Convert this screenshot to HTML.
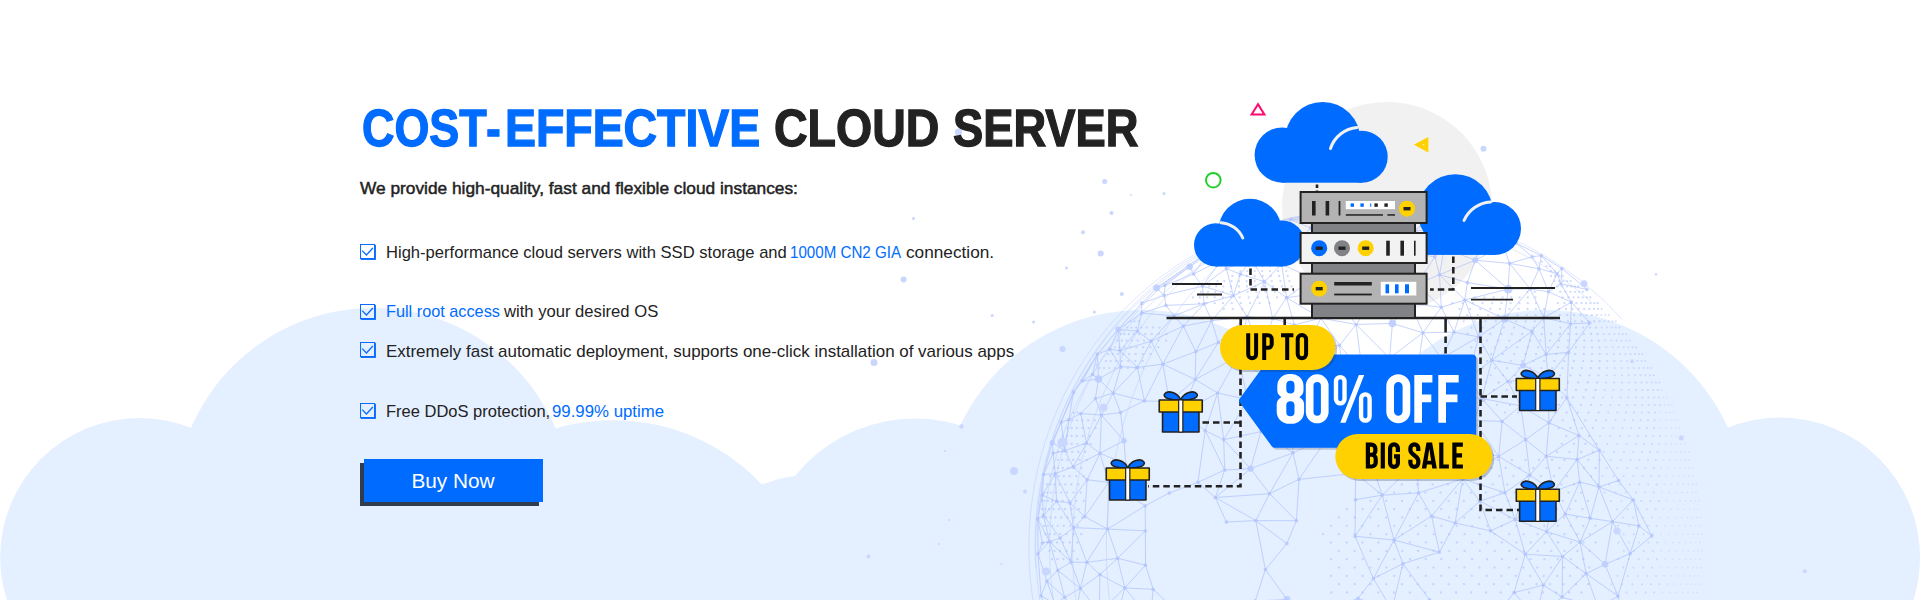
<!DOCTYPE html>
<html lang="en">
<head>
<meta charset="utf-8">
<title>Cost-Effective Cloud Server</title>
<style>
*{margin:0;padding:0;box-sizing:border-box}
html,body{width:1920px;height:600px;overflow:hidden;background:#fff}
body{font-family:"Liberation Sans",sans-serif;color:#222;position:relative}
#banner{position:absolute;left:0;top:0;width:1920px;height:600px;overflow:hidden;background:#fff}
#art{position:absolute;left:0;top:0;width:1920px;height:600px;display:block}
.t{position:absolute;white-space:nowrap;transform-origin:0 0;line-height:1;display:block}
h1.hd{font-weight:bold;font-size:51.5px;-webkit-text-stroke:1.3px currentColor;color:#222}

.sub{font-size:16px;font-weight:normal;color:#222;-webkit-text-stroke:.45px #222}
.li{font-size:16.3px;color:#222}
.blue{color:#006cff}
.chk{position:absolute;left:360px;width:16px;height:16px}
.btn{position:absolute;left:364px;top:459px;width:179px;height:43px;background:#006cff;box-shadow:-4px 4px 0 #2f3d4f;color:#fff;font-size:20px;line-height:43px;text-align:center;text-decoration:none;display:block}
.btn span{display:inline-block;position:relative;top:.5px;transform:scaleX(1.04)}
</style>
</head>
<body>
<div id="banner">
<svg id="art" width="1920" height="600" viewBox="0 0 1920 600">
<g id="clouds" fill="#e4efff">
<circle cx="139.6" cy="557.4" r="139.4"/>
<circle cx="373.2" cy="506.4" r="198.4"/>
<circle cx="613" cy="624.3" r="204.1"/>
<circle cx="810" cy="600" r="125"/>
<circle cx="915" cy="572.7" r="154.2"/>
<circle cx="1142.4" cy="511.3" r="201.4"/>
<circle cx="1307" cy="624.3" r="204.1"/>
<circle cx="1545" cy="511" r="201"/>
<circle cx="1780" cy="557.5" r="140"/>
<rect x="140" y="520" width="1640" height="80"/>
</g>
<circle cx="1387" cy="207" r="105" fill="#f1f1f1"/>
<g id="globe" fill="none" stroke="#a9bdfc" stroke-width="1" opacity=".62">
<path d="M1197.9 482.3L1224.7 470M1448.7 233.4L1444.3 248.5M1346.3 282.1L1312.6 278.8M1228 249.5L1209.8 250.9M1082.4 381L1073.5 392.1M1247.1 316.7L1261 353.4M1490.6 530.9L1455.2 522.9M1043.5 515.4L1060.1 538M1043.6 474.5L1053.2 453.1M1310.5 228.1L1316.4 214.7M1228 249.5L1221.7 259.7M1464.5 448.6L1416.6 461.9M1474 420.5L1464.5 448.6M1086.6 443.1L1100 453.3M1546.6 531.6L1565.2 514M1441.5 358.5L1439.8 395M1228 249.5L1226.2 244.4M1237.9 356.4L1195.2 379.5M1087.1 479.7L1108.5 482.5M1293 452.8L1250.6 468.7M1379.2 214.5L1411.3 221.1M1474 420.5L1420.7 431.6M1377.9 209.6L1379.2 214.5M1141.7 313.1L1141.7 303.2M1580.1 542.2L1590.3 518.3M1193.6 274L1221.7 259.7M1240.4 274.1L1226.3 268.6M1055 603.8L1041 595.8M1260.9 431.6L1247.8 399.7M1420.7 431.6L1416.6 461.9M1515.2 519.5L1479.9 501.2M1255.2 601L1265.4 569.5M1546.3 456.3L1529.9 475.1M1064.8 450.6L1086.6 443.1M1297.9 242.1L1284.1 228.6M1523.1 365.4L1491.7 360.3M1525.3 554.2L1515.2 519.5M1389.6 434.1L1398.7 400.3M1398.3 251.5L1382.8 273.2M1612.5 521.6L1605 564.3M1520.7 405.9L1525.6 439.7M1217.6 393L1237.9 356.4M1464.5 448.6L1498.7 456.4M1250.6 468.7L1223.7 439.7M1548.5 291.8L1543.8 317.7M1038 553.8L1037.8 518.9M1043.5 515.4L1049.5 541.6M1269.5 493.7L1215.3 497.5M1389.6 434.1L1367.1 450.2M1389.6 434.1L1420.7 431.6M1357.9 598.5L1310.3 615.8M1118.2 329.5L1141.7 303.2M1439.8 395L1481.9 398.5M1468.4 377.9L1481.9 398.5M1080.8 413.5L1095.4 398.6M1362.3 371.7L1367.9 415.4M1478.5 336.9L1468.4 377.9M1525.3 554.2L1543.4 585.1M1546.1 354.4L1548 377.2M1144.4 400.9L1120.5 412.5M1141.7 313.1L1137.3 331.1M1431.6 217.8L1411.9 212.7M1291.2 219.4L1258.8 230.1M1402.9 563.7L1394 540M1322.4 402.9L1367.9 415.4M1357.9 598.5L1391.9 609.7M1041 595.8L1050.1 616.5M1294.3 324.9L1305.9 348.2M1294.3 324.9L1320.9 318.1M1509.6 263.4L1539 268.7M1255.6 242.4L1284.1 228.6M1651.8 536L1638.9 525.9M1543.8 317.7L1532 331.2M1197.9 482.3L1205.2 430.6M1398.3 251.5L1396.1 238.8M1322.4 402.9L1294.1 389.8M1264.6 281.7L1272.7 318.5M1264.6 281.7L1233.4 295.6M1420.7 431.6L1464.5 448.6M1589.7 322.9L1571.4 302.2M1548.5 291.8L1560.9 283.8M1092.6 374.3L1098.5 379M1169.5 401.7L1182.3 412.5M1398.7 400.3L1367.9 415.4M1339.6 345.3L1343.7 390.1M1562.1 597.1L1586.1 573.7M1346.3 282.1L1320.2 255.4M1651.8 536L1630.2 553.6M1310.5 228.1L1335.2 242.9M1497.3 614.1L1514 592.6M1356.1 324.5L1379.1 292.3M1137.5 367.4L1162.9 364.2M1293 452.8L1290.7 422.3M1312.5 369.8L1294.1 389.8M1087.1 479.7L1100 453.3M1118.2 329.5L1137.3 331.1M1468.4 377.9L1439.8 395M1124.8 587.9L1153.2 589.3M1568.6 352.3L1546.1 354.4M1195.2 379.5L1182.3 412.5M1580.1 542.2L1605 564.3M1523.1 365.4L1507.9 381.4M1318 293.2L1286.6 297.7M1145.5 565.2L1124.8 587.9M1346.3 282.1L1341.4 305.4M1474 420.5L1481.9 398.5M1233.4 295.6L1226.3 268.6M1057.7 570.3L1064.6 597.4M1341.4 219.2L1339.9 213.7M1380.9 223.3L1356.5 230.5M1377.9 209.6L1411.9 212.7M1120.6 366.7L1109.8 349.2M1398.7 400.3L1417.9 368.4M1508.2 289.1L1467.4 282.6M1525.3 554.2L1562.6 556.5M1073.1 466.8L1055.3 473.7M1503.2 245.7L1479.6 247.1M1255.2 601L1310.3 615.8M1362.3 371.7L1343.7 390.1M1580.1 542.2L1546.6 531.6M1520.7 405.9L1481.9 398.5M1164.2 295.4L1156.5 287.9M1618 596.2L1605 564.3M1392.4 323.4L1356.1 324.5M1416.9 284.1L1382.8 273.2M1392.4 323.4L1379.1 292.3M1264.6 281.7L1247.1 316.7M1322.4 402.9L1343.7 390.1M1464.8 300L1454 332.2M1504.5 318.9L1491.7 360.3M1228 249.5L1255.6 242.4M1612.5 521.6L1638.9 525.9M1144.4 400.9L1169.5 401.7M1145.2 505.8L1169.3 493M1174.1 315.9L1141.7 313.1M1082.4 381L1092.6 374.3M1082.4 381L1097.3 354.1M1312.5 369.8L1343.7 390.1M1377.9 209.6L1339.6 210.8M1553.7 491.3L1565.2 514M1474 420.5L1439.8 395M1107.6 529.1L1084.8 516.7M1491.7 360.3L1507.9 381.4M1612.5 521.6L1630.2 553.6M1505 492.7L1515.2 519.5M1579 435.5L1577.1 459.5M1539 268.7L1541.3 255.7M1237.9 356.4L1261 353.4M1258.8 230.1L1284.1 228.6M1216.4 612.9L1255.2 601M1320.2 255.4L1335.2 242.9M1037.8 518.9L1049.5 541.6M1543.8 317.7L1546.1 354.4M1221.7 259.7L1226.3 268.6M1099.9 574.6L1124.8 587.9M1394 540L1373.4 578.6M1084.8 516.7L1070 502.9M1101.4 415L1080.8 413.5M1293 452.8L1327.8 437.3M1516.2 243.2L1495.6 233.2M1101.4 415L1095.4 398.6M1561.9 268.5L1541.3 255.7M1441.5 358.5L1454 332.2M1359.1 257.1L1373 242.3M1144.4 400.9L1113.2 393.1M1046.9 581.2L1064.6 597.4M1137.5 367.4L1151.1 341.2M1402.9 563.7L1439.4 552.1M1296.4 520.7L1286.9 543.5M1618 596.2L1622 616.4M1197.9 482.3L1215.3 497.5M1529.9 475.1L1515.2 519.5M1504.5 318.9L1530.1 288.9M1586.1 573.7L1562.6 556.5M1566.9 397.7L1579 435.5M1422.9 332.8L1454 332.2M1145.4 530.8L1117.6 558.3M1429.6 599.9L1391.9 609.7M1539 268.7L1532.2 256.7M1237.9 356.4L1247.8 399.7M1462.6 478.9L1479.9 501.2M1498.7 456.4L1525.6 439.7M1548.5 291.8L1557.1 273.6M1431.6 516L1439.4 552.1M1071 562.2L1086.8 562.3M1546.6 531.6L1515.2 519.5M1043.5 515.4L1037.8 518.9M1221.7 259.7L1209.8 250.9M1109.8 349.2L1097.3 354.1M1612.5 521.6L1590.3 518.3M1049.5 541.6L1057.7 570.3M1503.2 245.7L1495.6 233.2M1264.6 281.7L1240.4 274.1M1455.2 522.9L1479.9 501.2M1217.6 393L1205.2 430.6M1339.6 345.3L1305.9 348.2M1195.8 351.6L1195.2 379.5M1415 230L1431.6 217.8M1379.1 292.3L1341.4 305.4M1107.6 529.1L1145.2 505.8M1339.6 345.3L1320.9 318.1M1633.3 499.9L1599 486.9M1056.6 501.3L1042.4 495.1M1579.7 482L1565.2 514M1060.1 538L1049.5 541.6M1579.7 482L1599 486.9M1553.7 491.3L1577.1 459.5M1061.2 422.2L1052.3 442.5M1503.2 245.7L1516.2 243.2M1073.5 392.1L1052.3 442.5M1071 562.2L1080.4 588.4M1448.7 233.4L1454.4 219.8M1523.1 365.4L1548 377.2M1474 420.5L1498.7 456.4M1505 492.7L1479.9 501.2M1312.5 369.8L1322.4 402.9M1043.6 474.5L1037.8 518.9M1071 562.2L1073.6 527.6M1382.2 495.2L1355.1 536.3M1150.3 619.2L1153.2 589.3M1420.7 431.6L1439.8 395M1398.3 251.5L1434.9 256.8M1233.4 295.6L1204.1 303.8M1297.9 242.1L1320.2 255.4M1293 452.8L1299 479.3M1546.3 456.3L1553.7 491.3M1217.6 393L1195.2 379.5M1346.3 282.1L1379.1 292.3M1042.4 543L1049.5 541.6M1080.4 588.4L1064.6 597.4M1092.6 374.3L1097.3 354.1M1205.2 430.6L1223.7 439.7M1418.5 492.9L1394 540M1296.4 520.7L1269.5 493.7M1251.6 259L1240.4 274.1M1599.4 450.3L1579 435.5M1478.5 336.9L1491.7 360.3M1247.1 316.7L1272.7 318.5M1431.6 217.8L1411.3 221.1M1101.4 415L1124 440.7M1223.7 439.7L1247.8 399.7M1223.7 439.7L1224.7 470M1439.4 552.1L1394 540M1341.4 219.2L1316.4 214.7M1355.6 473.3L1382.2 495.2M1061.2 422.2L1064.8 450.6M1618 596.2L1630.2 553.6M1391.9 609.7L1373.4 578.6M1164.9 285.4L1164.2 295.4M1193.6 274L1209.8 250.9M1367.9 415.4L1343.7 390.1M1311.9 220.8L1291.2 219.4M1247.1 316.7L1218.3 342.4M1441.3 307.3L1454 332.2M1038 553.8L1042.4 543M1398.3 251.5L1373 242.3M1108.5 482.5L1100 453.3M1056.6 501.3L1055.3 473.7M1380.9 223.3L1396.1 238.8M1312.5 369.8L1305.9 348.2M1226.2 244.4L1255.6 242.4M1543.8 317.7L1530.1 288.9M1579.7 482L1577.1 459.5M1557.1 273.6L1541.3 255.7M1124.8 587.9L1099.4 612.7M1205.2 430.6L1224.7 470M1144.4 400.9L1162.9 364.2M1566.9 397.7L1599.4 450.3M1382.2 495.2L1367.1 450.2M1539 268.7L1530.1 288.9M1548.9 422.8L1525.6 439.7M1037.8 518.9L1042.4 543M1396.1 238.8L1373 242.3M1402.9 563.7L1373.4 578.6M1367.9 415.4L1367.1 450.2M1166 305.4L1141.7 313.1M1462.6 227.1L1495.6 233.2M1410.4 303.5L1416.9 284.1M1151.1 341.2L1119.9 350.7M1543.8 317.7L1571.4 302.2M1265.4 569.5L1286.9 543.5M1120.6 366.7L1137.5 367.4M1392.4 323.4L1410.4 303.5M1389.6 358.1L1417.9 368.4M1183.3 326.1L1204.1 303.8M1380.9 223.3L1379.2 214.5M1095.4 398.6L1098.5 379M1356.5 230.5L1379.2 214.5M1546.3 456.3L1548.9 422.8M1233.4 295.6L1211.6 320.7M1226.2 244.4L1258.8 230.1M1341.4 219.2L1356.5 230.5M1462.6 478.9L1418.5 492.9M1431.6 516L1394 540M1226.4 522L1215.3 497.5M1341.4 219.2L1377.9 209.6M1250.6 468.7L1224.7 470M1097.3 354.1L1098.5 379M1107.6 529.1L1086.8 562.3M1097.3 354.1L1073.5 392.1M1410.4 303.5L1422.9 332.8M1431.6 217.8L1448.7 233.4M1141.7 303.2L1164.2 295.4M1120.6 366.7L1119.9 350.7M1580.1 542.2L1562.6 556.5M1237.9 356.4L1267.1 380M1416.9 284.1L1434.9 256.8M1382.2 495.2L1394 540M1462.6 478.9L1416.6 461.9M1553.7 491.3L1515.2 519.5M1341.4 219.2L1335.2 242.9M1286.6 297.7L1320.9 318.1M1382.2 495.2L1355.4 499.7M1504.5 318.9L1464.8 300M1118.2 329.5L1097.3 354.1M1454.4 219.8L1411.9 212.7M1260.9 431.6L1290.7 422.3M1605 564.3L1586.1 573.7M1548.9 422.8L1579 435.5M1568.6 352.3L1548 377.2M1255.8 520.6L1286.9 543.5M1056.6 501.3L1073.6 527.6M1418.5 492.9L1416.6 461.9M1553.7 491.3L1529.9 475.1M1118.2 329.5L1109.8 349.2M1247.1 316.7L1211.6 320.7M1389.6 358.1L1398.7 400.3M1431.6 516L1455.2 522.9M1633.3 499.9L1638.9 525.9M1379.2 214.5L1411.9 212.7M1099.9 574.6L1117.6 558.3M1389.6 358.1L1422.9 332.8M1137.5 367.4L1119.9 350.7M1516.2 243.2L1532.2 256.7M1255.8 520.6L1226.4 522M1226.2 244.4L1209.8 250.9M1217.6 393L1182.3 412.5M1046.9 581.2L1041 595.8M1320.9 318.1L1341.4 305.4M1297.9 242.1L1281.7 263.9M1217.6 393L1223.7 439.7M1570.6 323.8L1543.8 317.7M1462.6 478.9L1498.7 456.4M1310.5 228.1L1297.9 242.1M1189.7 266.8L1156.5 287.9M1073.1 466.8L1100 453.3M1084.8 516.7L1108.5 482.5M1562.1 597.1L1543.4 585.1M1505 492.7L1462.6 478.9M1441.3 307.3L1410.4 303.5M1441.5 358.5L1468.4 377.9M1339.9 213.7L1316.4 214.7M1327.8 437.3L1367.9 415.4M1356.5 230.5L1335.2 242.9M1416.9 284.1L1439.5 274.7M1145.5 565.2L1145.4 530.8M1618.6 480.5L1599 486.9M1255.8 520.6L1215.3 497.5M1630.2 553.6L1605 564.3M1415 230L1396.1 238.8M1118.2 329.5L1141.7 313.1M1099.9 574.6L1086.8 562.3M1416.6 461.9L1367.1 450.2M1311.9 220.8L1316.4 214.7M1073.1 466.8L1064.8 450.6M1258.8 230.1L1209.8 250.9M1318 293.2L1320.9 318.1M1069 419.6L1080.8 413.5M1046.9 581.2L1057.7 570.3M1264.6 281.7L1251.6 259M1043.5 515.4L1042.4 495.1M1183.3 326.1L1211.6 320.7M1462.6 478.9L1464.5 448.6M1548.9 422.8L1548 377.2M1125.8 464.2L1108.5 482.5M1320.2 255.4L1312.6 278.8M1548.5 291.8L1530.1 288.9M1490.6 530.9L1515.2 519.5M1183.3 326.1L1174.1 315.9M1261 353.4L1267.1 380M1475.2 260.2L1439.5 274.7M1080.4 588.4L1086.8 562.3M1411.3 221.1L1411.9 212.7M1462.6 227.1L1448.7 233.4M1355.1 536.3L1373.4 578.6M1468.4 377.9L1491.7 360.3M1339.6 345.3L1362.3 371.7M1069 419.6L1073.5 392.1M1415 230L1398.3 251.5M1261 353.4L1305.9 348.2M1439.8 395L1417.9 368.4M1099.9 574.6L1080.4 588.4M1255.8 520.6L1269.5 493.7M1310.5 228.1L1320.2 255.4M1439.5 274.7L1434.9 256.8M1255.8 520.6L1265.4 569.5M1579.7 482L1590.3 518.3M1509.6 263.4L1532.2 256.7M1237.9 356.4L1218.3 342.4M1290.7 422.3L1294.1 389.8M1612.5 521.6L1580.1 542.2M1475.2 260.2L1479.6 247.1M1568.6 352.3L1566.9 397.7M1043.6 474.5L1042.4 495.1M1193.6 274L1189.7 266.8M1294.3 324.9L1261 353.4M1536.1 617.8L1514 592.6M1396.1 238.8L1411.3 221.1M1310.3 615.8L1287 599.5M1355.1 536.3L1394 540M1548.5 291.8L1571.4 302.2M1247.1 316.7L1237.9 356.4M1101.4 415L1113.2 393.1M1322.4 402.9L1290.7 422.3M1355.1 536.3L1355.4 499.7M1107.6 529.1L1108.5 482.5M1464.8 300L1478.5 336.9M1169.5 401.7L1162.9 364.2M1125.8 464.2L1124 440.7M1293 452.8L1260.9 431.6M1305.9 348.2L1294.1 389.8M1441.3 307.3L1416.9 284.1M1290.7 422.3L1247.8 399.7M1495.6 233.2L1454.4 219.8M1380.9 223.3L1373 242.3M1053.2 453.1L1055.3 473.7M1291.2 219.4L1316.4 214.7M1356.1 324.5L1320.9 318.1M1382.2 495.2L1416.6 461.9M1071 562.2L1060.1 538M1162.9 364.2L1195.2 379.5M1590.3 518.3L1565.2 514M1462.6 227.1L1479.6 247.1M1590.3 518.3L1599 486.9M1508.2 289.1L1530.1 288.9M1529.9 475.1L1525.6 439.7M1218.3 342.4L1211.6 320.7M1439.8 395L1398.7 400.3M1041 595.8L1038 553.8M1441.5 358.5L1478.5 336.9M1120.5 412.5L1113.2 393.1M1359.1 257.1L1382.8 273.2M1071 562.2L1057.7 570.3M1553.7 491.3L1546.6 531.6M1267.1 380L1247.8 399.7M1261 353.4L1272.7 318.5M1557.1 273.6L1539 268.7M1193.6 274L1164.9 285.4M1599.4 450.3L1599 486.9M1043.6 474.5L1055.3 473.7M1462.6 478.9L1431.6 516M1618.6 480.5L1599.4 450.3M1076.4 611.1L1080.4 588.4M1464.8 300L1439.5 274.7M1398.7 400.3L1362.3 371.7M1120.6 366.7L1098.5 379M1327.8 437.3L1367.1 450.2M1546.1 354.4L1532 331.2M1247.1 316.7L1233.4 295.6M1202.5 286.1L1226.3 268.6M1145.5 565.2L1153.2 589.3M1431.6 217.8L1454.4 219.8M1548.5 291.8L1539 268.7M1415 230L1444.3 248.5M1475.2 260.2L1509.6 263.4M1379.1 292.3L1410.4 303.5M1491.7 360.3L1481.9 398.5M1462.6 478.9L1455.2 522.9M1071 562.2L1049.5 541.6M1580.1 542.2L1586.1 573.7M1418.5 492.9L1431.6 516M1087.1 479.7L1084.8 516.7M1439.5 274.7L1467.4 282.6M1250.6 468.7L1215.3 497.5M1037.8 518.9L1042.4 495.1M1509.6 263.4L1530.1 288.9M1570.6 323.8L1568.6 352.3M1174.1 315.9L1204.1 303.8M1260.9 431.6L1223.7 439.7M1536.1 617.8L1562.1 597.1M1144.4 400.9L1137.5 367.4M1612.5 521.6L1599 486.9M1318 293.2L1346.3 282.1M1260.9 431.6L1250.6 468.7M1402.9 563.7L1391.9 609.7M1076.4 611.1L1055 603.8M1101.4 415L1100 453.3M1076.4 611.1L1064.6 597.4M1195.8 351.6L1183.3 326.1M1082.4 381L1098.5 379M1124 440.7L1100 453.3M1327.8 437.3L1322.4 402.9M1546.3 456.3L1525.6 439.7M1120.5 412.5L1124 440.7M1618.6 480.5L1633.3 499.9M1339.9 213.7L1339.6 210.8M1570.6 323.8L1589.7 322.9M1618 596.2L1598.3 608M1439.4 552.1L1455.2 522.9M1504.5 318.9L1478.5 336.9M1258.8 230.1L1255.6 242.4M1546.6 531.6L1562.6 556.5M1618 596.2L1586.1 573.7M1415 230L1434.9 256.8M1250.6 468.7L1269.5 493.7M1568.6 352.3L1589.7 322.9M1444.3 248.5L1434.9 256.8M1084.8 516.7L1073.6 527.6M1599.4 450.3L1577.1 459.5M1577.1 459.5L1599 486.9M1145.5 565.2L1117.6 558.3M1107.6 529.1L1117.6 558.3M1202.5 286.1L1164.2 295.4M1415 230L1448.7 233.4M1151.1 341.2L1162.9 364.2M1197.9 482.3L1169.3 493M1124.8 587.9L1117.2 616.6M1095.4 398.6L1113.2 393.1M1475.2 260.2L1444.3 248.5M1251.6 259L1226.3 268.6M1294.3 324.9L1286.6 297.7M1379.1 292.3L1416.9 284.1M1502.1 421.4L1525.6 439.7M1312.6 278.8L1286.6 297.7M1536.1 617.8L1543.4 585.1M1557.1 273.6L1561.9 268.5M1255.8 520.6L1296.4 520.7M1310.5 228.1L1341.4 219.2M1520.7 405.9L1507.9 381.4M1064.8 450.6L1052.3 442.5M1215.3 497.5L1224.7 470M1474 420.5L1502.1 421.4M1101.4 415L1120.5 412.5M1318 293.2L1312.6 278.8M1299 479.3L1327.8 437.3M1156.5 287.9L1209.8 250.9M1118.2 329.5L1119.9 350.7M1462.6 227.1L1454.4 219.8M1441.5 358.5L1417.9 368.4M1233.4 295.6L1240.4 274.1M1055.3 473.7L1042.4 495.1M1087.1 479.7L1070 502.9M1580.1 542.2L1565.2 514M1073.1 466.8L1086.6 443.1M1516.2 243.2L1541.3 255.7M1422.9 332.8L1417.9 368.4M1193.6 274L1202.5 286.1M1355.6 473.3L1367.1 450.2M1520.7 405.9L1502.1 421.4M1464.8 300L1508.2 289.1M1290.7 422.3L1267.1 380M1444.3 248.5L1439.5 274.7M1380.9 223.3L1411.3 221.1M1548 377.2L1507.9 381.4M1651.8 536L1633.3 499.9M1151.1 341.2L1137.3 331.1M1166 305.4L1164.2 295.4M1504.5 318.9L1543.8 317.7M1546.3 456.3L1579 435.5M1520.7 405.9L1548.9 422.8M1420.7 431.6L1398.7 400.3M1557.1 273.6L1560.9 283.8M1055 603.8L1064.6 597.4M1107.6 529.1L1073.6 527.6M1357.9 598.5L1373.4 578.6M1441.3 307.3L1439.5 274.7M1560.9 283.8L1571.4 302.2M1202.5 286.1L1204.1 303.8M1195.8 351.6L1218.3 342.4M1299 479.3L1269.5 493.7M1562.1 597.1L1598.3 608M1195.2 379.5L1218.3 342.4M1339.6 345.3L1356.1 324.5M1080.8 413.5L1086.6 443.1M1441.3 307.3L1464.8 300M1359.1 257.1L1356.5 230.5M1145.4 530.8L1145.2 505.8M1305.9 348.2L1320.9 318.1M1479.6 247.1L1444.3 248.5M1579.7 482L1553.7 491.3M1228 249.5L1251.6 259M1346.3 282.1L1382.8 273.2M1478.5 336.9L1454 332.2M1418.5 492.9L1382.2 495.2M1570.6 323.8L1546.1 354.4M1046.9 581.2L1038 553.8M1183.3 326.1L1162.9 364.2M1320.2 255.4L1281.7 263.9M1267.1 380L1305.9 348.2M1173.6 608.5L1153.2 589.3M1070 502.9L1055.3 473.7M1441.5 358.5L1422.9 332.8M1107.6 529.1L1145.4 530.8M1055 603.8L1046.9 581.2M1359.1 257.1L1335.2 242.9M1377.9 209.6L1339.9 213.7M1346.3 282.1L1359.1 257.1M1164.9 285.4L1189.7 266.8M1392.4 323.4L1422.9 332.8M1339.6 210.8L1316.4 214.7M1055 603.8L1050.1 616.5M1355.6 473.3L1355.4 499.7M1339.6 345.3L1312.5 369.8M1505 492.7L1498.7 456.4M1310.5 228.1L1291.2 219.4M1398.3 251.5L1416.9 284.1M1217.6 393L1247.8 399.7M1523.1 365.4L1532 331.2M1429.6 599.9L1446.8 619.9M1502.1 421.4L1481.9 398.5M1546.3 456.3L1577.1 459.5M1166 305.4L1204.1 303.8M1525.3 554.2L1490.6 530.9M1291.2 219.4L1284.1 228.6M1356.1 324.5L1362.3 371.7M1164.9 285.4L1156.5 287.9M1264.6 281.7L1281.7 263.9M1612.5 521.6L1633.3 499.9M1109.8 349.2L1119.9 350.7M1389.6 358.1L1362.3 371.7M1294.3 324.9L1272.7 318.5M1038 553.8L1049.5 541.6M1529.9 475.1L1498.7 456.4M1318 293.2L1341.4 305.4M1053.2 453.1L1052.3 442.5M1174.1 315.9L1151.1 341.2M1507.9 381.4L1481.9 398.5M1503.2 245.7L1475.2 260.2M1566.9 397.7L1548.9 422.8M1124.8 587.9L1117.6 558.3M1061.2 422.2L1073.5 392.1M1479.6 247.1L1448.7 233.4M1504.5 318.9L1508.2 289.1M1520.7 405.9L1548 377.2M1355.6 473.3L1327.8 437.3M1562.1 597.1L1562.6 556.5M1475.2 260.2L1467.4 282.6M1080.4 588.4L1057.7 570.3M1195.8 351.6L1162.9 364.2M1286.6 297.7L1272.7 318.5M1543.4 585.1L1562.6 556.5M1525.3 554.2L1514 592.6M1356.5 230.5L1373 242.3M1525.3 554.2L1546.6 531.6M1267.1 380L1294.1 389.8M1086.8 562.3L1117.6 558.3M1508.2 289.1L1509.6 263.4M1098.5 379L1113.2 393.1M1060.1 538L1073.6 527.6M1491.7 360.3L1532 331.2M1251.6 259L1281.7 263.9M1598.3 608L1586.1 573.7M1195.8 351.6L1211.6 320.7M1043.6 474.5L1052.3 442.5M1505 492.7L1529.9 475.1M1087.1 479.7L1073.1 466.8M1490.6 530.9L1479.9 501.2M1183.3 326.1L1151.1 341.2M1415 230L1411.3 221.1M1053.2 453.1L1064.8 450.6M1137.3 331.1L1119.9 350.7M1532.2 256.7L1541.3 255.7M1389.6 434.1L1367.9 415.4M1189.7 266.8L1209.8 250.9M1233.4 295.6L1202.5 286.1M1311.9 220.8L1310.5 228.1M1441.3 307.3L1422.9 332.8M1379.1 292.3L1382.8 273.2M1356.1 324.5L1389.6 358.1M1125.8 464.2L1100 453.3M1108.5 482.5L1145.2 505.8M1429.6 599.9L1402.9 563.7M1312.6 278.8L1281.7 263.9M1169.5 401.7L1195.2 379.5M1070 502.9L1073.6 527.6M1503.2 245.7L1509.6 263.4M1069 419.6L1061.2 422.2M1099.9 574.6L1099.4 612.7M1120.6 366.7L1113.2 393.1M1251.6 259L1255.6 242.4M1124.8 587.9L1150.3 619.2M1101.4 415L1086.6 443.1M1141.7 303.2L1156.5 287.9M1211.6 320.7L1204.1 303.8M1356.1 324.5L1341.4 305.4M1523.1 365.4L1546.1 354.4M1630.2 553.6L1638.9 525.9M1498.7 456.4L1502.1 421.4M1382.8 273.2L1373 242.3M1228 249.5L1226.3 268.6M1043.5 515.4L1056.6 501.3M1264.6 281.7L1286.6 297.7M1286.6 297.7L1281.7 263.9M1293 452.8L1269.5 493.7M1355.6 473.3L1299 479.3M1561.9 268.5L1586.9 289.4M1080.4 588.4L1099.4 612.7M1561.9 268.5L1560.9 283.8M1586.9 289.4L1560.9 283.8M1389.6 434.1L1416.6 461.9M1327.8 437.3L1290.7 422.3M1166 305.4L1174.1 315.9M1255.2 601L1287 599.5M1514 592.6L1543.4 585.1M1086.8 562.3L1073.6 527.6M1475.2 260.2L1508.2 289.1M1056.6 501.3L1070 502.9M1566.9 397.7L1548 377.2M1069 419.6L1064.8 450.6M1570.6 323.8L1571.4 302.2M1299 479.3L1296.4 520.7M1504.5 318.9L1532 331.2M1205.2 430.6L1182.3 412.5M1137.5 367.4L1113.2 393.1M1464.8 300L1467.4 282.6M1392.4 323.4L1389.6 358.1M1287 599.5L1265.4 569.5M1221.7 259.7L1202.5 286.1"/>
<path opacity=".55" d="M1035.8 568.5A337 337 0 0 1 1325.1 211.3M1044.3 519.2A331 331 0 0 1 1260.8 237M1051.8 447A343 343 0 0 1 1206.5 256M1418.9 211.3A337 337 0 0 1 1622.4 319.5M1450.1 226.8A331 331 0 0 1 1591.5 302M1352 212A321.2 333 0 0 0 1352 882M1352 212A314.4 333 0 0 0 1352 882M1352 212A300.6 333 0 0 0 1352 882M1352 212A277.9 333 0 0 0 1352 882M1352 212A244.2 333 0 0 0 1352 882"/>
</g>
<path d="M1311.9 220.8h0M1043.5 515.4h0M1612.5 521.6h0M1503.2 245.7h0M1255.8 520.6h0M1546.3 456.3h0M1293 452.8h0M1082.4 381h0M1195.8 351.6h0M1264.6 281.7h0M1429.6 599.9h0M1570.6 323.8h0M1318 293.2h0M1107.6 529.1h0M1310.5 228.1h0M1247.1 316.7h0M1087.1 479.7h0M1193.6 274h0M1415 230h0M1441.3 307.3h0M1294.3 324.9h0M1618 596.2h0M1389.6 434.1h0M1525.3 554.2h0M1073.1 466.8h0M1297.9 242.1h0M1505 492.7h0M1055 603.8h0M1144.4 400.9h0M1474 420.5h0M1462.6 227.1h0M1046.9 581.2h0M1183.3 326.1h0M1339.6 345.3h0M1548.5 291.8h0M1398.3 251.5h0M1166 305.4h0M1291.2 219.4h0M1402.9 563.7h0M1580.1 542.2h0M1233.4 295.6h0M1260.9 431.6h0M1228 249.5h0M1420.7 431.6h0M1462.6 478.9h0M1169.5 401.7h0M1568.6 352.3h0M1346.3 282.1h0M1120.6 366.7h0M1357.9 598.5h0M1355.6 473.3h0M1137.5 367.4h0M1255.2 601h0M1217.6 393h0M1069 419.6h0M1520.7 405.9h0M1174.1 315.9h0M1356.1 324.5h0M1566.9 397.7h0M1441.5 358.5h0M1251.6 259h0M1101.4 415h0M1151.1 341.2h0M1379.1 292.3h0M1380.9 223.3h0M1464.8 300h0M1490.6 530.9h0M1312.5 369.8h0M1396.1 238.8h0M1141.7 313.1h0M1359.1 257.1h0M1041 595.8h0M1557.1 273.6h0M1516.2 243.2h0M1418.5 492.9h0M1237.9 356.4h0M1120.5 412.5h0M1341.4 219.2h0M1261 353.4h0M1618.6 480.5h0M1109.8 349.2h0M1141.7 303.2h0M1299 479.3h0M1043.6 474.5h0M1548.9 422.8h0M1479.6 247.1h0M1164.9 285.4h0M1162.9 364.2h0M1071 562.2h0M1084.8 516.7h0M1226.4 522h0M1056.6 501.3h0M1431.6 217.8h0M1382.2 495.2h0M1221.7 259.7h0M1060.1 538h0M1356.5 230.5h0M1562.1 597.1h0M1599.4 450.3h0M1327.8 437.3h0M1053.2 453.1h0M1061.2 422.2h0M1145.5 565.2h0M1197.9 482.3h0M1478.5 336.9h0M1064.8 450.6h0M1651.8 536h0M1080.8 413.5h0M1579.7 482h0M1468.4 377.9h0M1543.8 317.7h0M1579 435.5h0M1377.9 209.6h0M1355.1 536.3h0M1095.4 398.6h0M1125.8 464.2h0M1108.5 482.5h0M1439.8 395h0M1038 553.8h0M1553.7 491.3h0M1389.6 358.1h0M1195.2 379.5h0M1398.7 400.3h0M1226.2 244.4h0M1431.6 516h0M1205.2 430.6h0M1630.2 553.6h0M1410.4 303.5h0M1362.3 371.7h0M1218.3 342.4h0M1514 592.6h0M1448.7 233.4h0M1037.8 518.9h0M1416.9 284.1h0M1099.9 574.6h0M1124.8 587.9h0M1422.9 332.8h0M1491.7 360.3h0M1546.6 531.6h0M1258.8 230.1h0M1312.6 278.8h0M1379.2 214.5h0M1586.1 573.7h0M1439.4 552.1h0M1546.1 354.4h0M1286.6 297.7h0M1444.3 248.5h0M1509.6 263.4h0M1367.9 415.4h0M1080.4 588.4h0M1296.4 520.7h0M1042.4 543h0M1417.9 368.4h0M1339.9 213.7h0M1290.7 422.3h0M1086.6 443.1h0M1561.9 268.5h0M1267.1 380h0M1589.7 322.9h0M1464.5 448.6h0M1202.5 286.1h0M1145.4 530.8h0M1137.3 331.1h0M1454 332.2h0M1070 502.9h0M1416.6 461.9h0M1382.8 273.2h0M1086.8 562.3h0M1529.9 475.1h0M1495.6 233.2h0M1073.6 527.6h0M1532 331.2h0M1411.3 221.1h0M1586.9 289.4h0M1049.5 541.6h0M1092.6 374.3h0M1498.7 456.4h0M1284.1 228.6h0M1305.9 348.2h0M1211.6 320.7h0M1454.4 219.8h0M1560.9 283.8h0M1439.5 274.7h0M1097.3 354.1h0M1055.3 473.7h0M1145.2 505.8h0M1269.5 493.7h0M1320.9 318.1h0M1502.1 421.4h0M1182.3 412.5h0M1548 377.2h0M1394 540h0M1590.3 518.3h0M1633.3 499.9h0M1265.4 569.5h0M1057.7 570.3h0M1117.6 558.3h0M1281.7 263.9h0M1223.7 439.7h0M1215.3 497.5h0M1411.9 212.7h0M1543.4 585.1h0M1204.1 303.8h0M1286.9 543.5h0M1335.2 242.9h0M1169.3 493h0M1539 268.7h0M1100 453.3h0M1042.4 495.1h0M1467.4 282.6h0M1339.6 210.8h0M1240.4 274.1h0M1515.2 519.5h0M1562.6 556.5h0M1571.4 302.2h0M1247.8 399.7h0M1164.2 295.4h0M1455.2 522.9h0M1479.9 501.2h0M1530.1 288.9h0M1073.5 392.1h0M1341.4 305.4h0M1355.4 499.7h0M1507.9 381.4h0M1224.7 470h0M1532.2 256.7h0M1343.7 390.1h0M1113.2 393.1h0M1577.1 459.5h0M1434.9 256.8h0M1367.1 450.2h0M1638.9 525.9h0M1064.6 597.4h0M1373.4 578.6h0M1272.7 318.5h0M1565.2 514h0M1525.6 439.7h0M1316.4 214.7h0M1226.3 268.6h0M1119.9 350.7h0M1153.2 589.3h0M1294.1 389.8h0M1541.3 255.7h0M1599 486.9h0" stroke="#a9bdfc" stroke-width="3.7" stroke-linecap="round" fill="none" opacity=".6"/>
<g fill="#b9caff" opacity=".8"><circle cx="1392.4" cy="323.4" r="3.8"/><circle cx="1504.5" cy="318.9" r="3.6"/><circle cx="1475.2" cy="260.2" r="3"/><circle cx="1118.2" cy="329.5" r="2.9"/><circle cx="1508.2" cy="289.1" r="4.4"/><circle cx="1250.6" cy="468.7" r="3.1"/><circle cx="1322.4" cy="402.9" r="3.8"/><circle cx="1320.2" cy="255.4" r="3.2"/><circle cx="1189.7" cy="266.8" r="3.2"/><circle cx="1523.1" cy="365.4" r="3"/><circle cx="1287" cy="599.5" r="3.4"/><circle cx="1605" cy="564.3" r="3.3"/><circle cx="1255.6" cy="242.4" r="3.8"/><circle cx="1124" cy="440.7" r="2.7"/><circle cx="1098.5" cy="379" r="3.7"/><circle cx="1481.9" cy="398.5" r="3.7"/><circle cx="1156.5" cy="287.9" r="3.3"/><circle cx="1373" cy="242.3" r="3.9"/><circle cx="1052.3" cy="442.5" r="2.6"/><circle cx="1209.8" cy="250.9" r="3.6"/></g>
<path d="M1541.9 261.7h0M1248.4 266.3h0M1255.2 266.3h0M1262.4 266.3h0M1269.8 266.3h0M1277.4 266.3h0M1285.3 266.3h0M1546.7 266.3h0M1549.9 266.3h0M1240.4 271.1h0M1247.4 271.1h0M1254.7 271.1h0M1262.2 271.1h0M1270 271.1h0M1278 271.1h0M1286.3 271.1h0M1551.2 271.1h0M1554.7 271.1h0M1232.4 276h0M1239.5 276h0M1246.9 276h0M1254.6 276h0M1262.5 276h0M1270.7 276h0M1279.1 276h0M1287.7 276h0M1551 276h0M1555.3 276h0M1559.2 276h0M1562.7 276h0M1217.5 281.1h0M1224.3 281.1h0M1231.5 281.1h0M1239 281.1h0M1246.7 281.1h0M1254.8 281.1h0M1263.1 281.1h0M1271.7 281.1h0M1280.4 281.1h0M1289.4 281.1h0M1554.4 281.1h0M1559.1 281.1h0M1563.3 281.1h0M1567.2 281.1h0M1570.5 281.1h0M1209.3 286.4h0M1216.2 286.4h0M1223.4 286.4h0M1231 286.4h0M1238.8 286.4h0M1247 286.4h0M1255.4 286.4h0M1264.1 286.4h0M1273.1 286.4h0M1282.2 286.4h0M1291.6 286.4h0M1557.5 286.4h0M1562.5 286.4h0M1567.1 286.4h0M1571.3 286.4h0M1575 286.4h0M1578.2 286.4h0M1201.1 291.8h0M1208 291.8h0M1215.3 291.8h0M1222.9 291.8h0M1230.8 291.8h0M1239.1 291.8h0M1247.6 291.8h0M1256.4 291.8h0M1265.5 291.8h0M1274.8 291.8h0M1284.4 291.8h0M1294.1 291.8h0M1527.3 291.8h0M1534.7 291.8h0M1560.2 291.8h0M1565.6 291.8h0M1570.5 291.8h0M1575 291.8h0M1579.1 291.8h0M1582.7 291.8h0M1193 297.4h0M1199.8 297.4h0M1207.1 297.4h0M1214.8 297.4h0M1222.8 297.4h0M1231.1 297.4h0M1239.7 297.4h0M1248.7 297.4h0M1257.9 297.4h0M1267.3 297.4h0M1277 297.4h0M1286.9 297.4h0M1474.9 297.4h0M1484.4 297.4h0M1493.7 297.4h0M1502.6 297.4h0M1511.3 297.4h0M1519.7 297.4h0M1527.8 297.4h0M1535.5 297.4h0M1562.5 297.4h0M1568.3 297.4h0M1573.6 297.4h0M1578.4 297.4h0M1582.8 297.4h0M1586.8 297.4h0M1590.2 297.4h0M1199 303.2h0M1206.6 303.2h0M1214.7 303.2h0M1223 303.2h0M1231.7 303.2h0M1240.8 303.2h0M1250.1 303.2h0M1259.7 303.2h0M1269.5 303.2h0M1452.3 303.2h0M1462.6 303.2h0M1472.7 303.2h0M1482.5 303.2h0M1492.2 303.2h0M1501.5 303.2h0M1510.6 303.2h0M1519.4 303.2h0M1527.8 303.2h0M1535.9 303.2h0M1557.9 303.2h0M1564.5 303.2h0M1570.6 303.2h0M1576.3 303.2h0M1581.5 303.2h0M1586.2 303.2h0M1590.5 303.2h0M1594.3 303.2h0M1597.6 303.2h0M1223.7 309h0M1232.8 309h0M1242.2 309h0M1459.6 309h0M1470.1 309h0M1480.3 309h0M1490.3 309h0M1500 309h0M1509.5 309h0M1518.6 309h0M1527.5 309h0M1535.9 309h0M1544.1 309h0M1559.1 309h0M1566 309h0M1572.5 309h0M1578.6 309h0M1584.2 309h0M1589.3 309h0M1593.9 309h0M1598 309h0M1467.1 315.1h0M1477.7 315.1h0M1488.1 315.1h0M1498.2 315.1h0M1508 315.1h0M1517.5 315.1h0M1526.7 315.1h0M1535.6 315.1h0M1544.1 315.1h0M1559.9 315.1h0M1567.2 315.1h0M1574.1 315.1h0M1580.5 315.1h0M1586.4 315.1h0M1591.9 315.1h0M1596.9 315.1h0M1130.8 321.3h0M1134.5 321.3h0M1138.8 321.3h0M1463.7 321.3h0M1474.7 321.3h0M1485.4 321.3h0M1495.9 321.3h0M1506.1 321.3h0M1516 321.3h0M1525.6 321.3h0M1534.8 321.3h0M1543.7 321.3h0M1560.3 321.3h0M1568 321.3h0M1575.2 321.3h0M1582 321.3h0M1588.4 321.3h0M1594.2 321.3h0M1599.6 321.3h0M1127.4 327.6h0M1131.5 327.6h0M1136.1 327.6h0M1141.2 327.6h0M1146.8 327.6h0M1152.9 327.6h0M1159.6 327.6h0M1471.4 327.6h0M1482.4 327.6h0M1493.3 327.6h0M1503.8 327.6h0M1514.1 327.6h0M1524.1 327.6h0M1533.7 327.6h0M1542.9 327.6h0M1560.3 327.6h0M1568.4 327.6h0M1576 327.6h0M1583.2 327.6h0M1589.9 327.6h0M1596.1 327.6h0M1120.5 334h0M1124.4 334h0M1128.8 334h0M1133.7 334h0M1139.2 334h0M1145.2 334h0M1151.7 334h0M1158.7 334h0M1166.2 334h0M1467.7 334h0M1479.1 334h0M1490.3 334h0M1501.2 334h0M1511.8 334h0M1522.2 334h0M1532.2 334h0M1541.8 334h0M1551.1 334h0M1559.9 334h0M1568.4 334h0M1576.4 334h0M1583.9 334h0M1591 334h0M1597.6 334h0M1117.5 340.6h0M1121.7 340.6h0M1126.5 340.6h0M1131.8 340.6h0M1137.7 340.6h0M1144 340.6h0M1150.9 340.6h0M1158.3 340.6h0M1166.2 340.6h0M1475.4 340.6h0M1486.9 340.6h0M1498.2 340.6h0M1509.2 340.6h0M1519.9 340.6h0M1530.2 340.6h0M1540.3 340.6h0M1549.9 340.6h0M1559.1 340.6h0M1568 340.6h0M1576.3 340.6h0M1584.3 340.6h0M1591.7 340.6h0M1598.7 340.6h0M1114.8 347.3h0M1119.4 347.3h0M1124.6 347.3h0M1130.3 347.3h0M1136.5 347.3h0M1143.2 347.3h0M1150.5 347.3h0M1158.3 347.3h0M1471.4 347.3h0M1483.2 347.3h0M1494.8 347.3h0M1506.2 347.3h0M1517.2 347.3h0M1528 347.3h0M1538.3 347.3h0M1548.3 347.3h0M1558 347.3h0M1567.2 347.3h0M1575.9 347.3h0M1584.2 347.3h0M1592.1 347.3h0M1599.4 347.3h0M1108.2 354.1h0M1112.5 354.1h0M1117.5 354.1h0M1123 354.1h0M1129.1 354.1h0M1135.7 354.1h0M1142.8 354.1h0M1150.5 354.1h0M1479.2 354.1h0M1491.1 354.1h0M1502.8 354.1h0M1514.2 354.1h0M1525.3 354.1h0M1536 354.1h0M1546.4 354.1h0M1556.4 354.1h0M1566 354.1h0M1575.1 354.1h0M1583.8 354.1h0M1592 354.1h0M1599.8 354.1h0M1105.9 361.1h0M1110.7 361.1h0M1116 361.1h0M1121.9 361.1h0M1128.3 361.1h0M1135.3 361.1h0M1142.8 361.1h0M1487.1 361.1h0M1499.1 361.1h0M1510.8 361.1h0M1522.3 361.1h0M1533.4 361.1h0M1544.1 361.1h0M1554.4 361.1h0M1564.4 361.1h0M1573.9 361.1h0M1583 361.1h0M1591.6 361.1h0M1599.7 361.1h0M1099.5 368.1h0M1104 368.1h0M1109.1 368.1h0M1114.8 368.1h0M1121.1 368.1h0M1127.9 368.1h0M1135.3 368.1h0M1143.2 368.1h0M1482.7 368.1h0M1495 368.1h0M1507.1 368.1h0M1518.9 368.1h0M1530.3 368.1h0M1541.4 368.1h0M1552.1 368.1h0M1562.4 368.1h0M1572.3 368.1h0M1581.8 368.1h0M1590.8 368.1h0M1599.3 368.1h0M1490.7 375.3h0M1503 375.3h0M1515.1 375.3h0M1526.9 375.3h0M1538.4 375.3h0M1549.4 375.3h0M1560.1 375.3h0M1570.4 375.3h0M1580.2 375.3h0M1589.5 375.3h0M1598.4 375.3h0M1485.9 382.5h0M1498.6 382.5h0M1511.1 382.5h0M1523.2 382.5h0M1535 382.5h0M1546.4 382.5h0M1557.4 382.5h0M1568 382.5h0M1578.2 382.5h0M1587.9 382.5h0M1597.2 382.5h0M1493.9 389.9h0M1506.7 389.9h0M1519.1 389.9h0M1531.2 389.9h0M1543 389.9h0M1554.3 389.9h0M1565.3 389.9h0M1575.9 389.9h0M1585.9 389.9h0M1595.6 389.9h0M1501.9 397.4h0M1514.7 397.4h0M1527.1 397.4h0M1539.2 397.4h0M1550.9 397.4h0M1562.2 397.4h0M1573.1 397.4h0M1583.6 397.4h0M1593.6 397.4h0M1496.9 404.9h0M1510 404.9h0M1522.7 404.9h0M1535.1 404.9h0M1547.1 404.9h0M1558.8 404.9h0M1570 404.9h0M1580.8 404.9h0M1591.2 404.9h0M1073.4 412.6h0M1077.6 412.6h0M1504.9 412.6h0M1518 412.6h0M1555 412.6h0M1566.6 412.6h0M1577.7 412.6h0M1588.4 412.6h0M1598.6 412.6h0M1068.4 420.3h0M1072.4 420.3h0M1077 420.3h0M1082.2 420.3h0M1088.1 420.3h0M1094.7 420.3h0M1550.9 420.3h0M1562.8 420.3h0M1574.3 420.3h0M1585.3 420.3h0M1595.9 420.3h0M1067.4 428.1h0M1071.7 428.1h0M1076.7 428.1h0M1082.4 428.1h0M1088.6 428.1h0M1095.6 428.1h0M1558.7 428.1h0M1570.5 428.1h0M1581.8 428.1h0M1592.7 428.1h0M1062.8 436h0M1066.8 436h0M1071.5 436h0M1076.9 436h0M1082.9 436h0M1089.5 436h0M1566.3 436h0M1578 436h0M1589.3 436h0M1062.2 443.9h0M1066.6 443.9h0M1071.7 443.9h0M1077.4 443.9h0M1083.8 443.9h0M1090.8 443.9h0M1561.9 443.9h0M1573.9 443.9h0M1585.4 443.9h0M1596.5 443.9h0M1057.9 451.9h0M1062 451.9h0M1066.8 451.9h0M1072.2 451.9h0M1078.3 451.9h0M1085.1 451.9h0M1557.1 451.9h0M1569.4 451.9h0M1581.3 451.9h0M1592.7 451.9h0M1057.8 459.9h0M1062.2 459.9h0M1067.4 459.9h0M1073.2 459.9h0M1079.7 459.9h0M1086.8 459.9h0M1497.8 459.9h0M1511.9 459.9h0M1525.6 459.9h0M1539 459.9h0M1552 459.9h0M1564.6 459.9h0M1576.8 459.9h0M1588.5 459.9h0M1599.7 459.9h0M1053.9 468h0M1058 468h0M1062.8 468h0M1068.3 468h0M1074.5 468h0M1081.4 468h0M1447.2 468h0M1462.2 468h0M1476.9 468h0M1491.4 468h0M1505.7 468h0M1519.7 468h0M1533.3 468h0M1546.6 468h0M1559.5 468h0M1584 468h0M1595.6 468h0M1050.3 476.2h0M1054.1 476.2h0M1058.6 476.2h0M1063.8 476.2h0M1069.7 476.2h0M1076.2 476.2h0M1083.5 476.2h0M1409.3 476.2h0M1424.7 476.2h0M1440 476.2h0M1455.2 476.2h0M1470.1 476.2h0M1484.8 476.2h0M1499.3 476.2h0M1513.5 476.2h0M1527.4 476.2h0M1540.9 476.2h0M1554.1 476.2h0M1566.8 476.2h0M1591 476.2h0M1047.1 484.4h0M1050.6 484.4h0M1054.7 484.4h0M1059.6 484.4h0M1065.2 484.4h0M1071.4 484.4h0M1078.4 484.4h0M1401.8 484.4h0M1417.3 484.4h0M1432.7 484.4h0M1448 484.4h0M1463.1 484.4h0M1478 484.4h0M1492.7 484.4h0M1507.1 484.4h0M1521.2 484.4h0M1535 484.4h0M1548.4 484.4h0M1561.4 484.4h0M1574 484.4h0M1597.9 484.4h0M1044.3 492.6h0M1047.4 492.6h0M1051.2 492.6h0M1055.7 492.6h0M1061 492.6h0M1066.9 492.6h0M1073.6 492.6h0M1080.8 492.6h0M1378.4 492.6h0M1394.1 492.6h0M1409.7 492.6h0M1425.2 492.6h0M1440.6 492.6h0M1455.9 492.6h0M1471 492.6h0M1485.9 492.6h0M1500.5 492.6h0M1514.8 492.6h0M1528.8 492.6h0M1542.5 492.6h0M1555.7 492.6h0M1568.6 492.6h0M1581.1 492.6h0M1041.8 500.9h0M1044.5 500.9h0M1048 500.9h0M1052.2 500.9h0M1057.2 500.9h0M1062.8 500.9h0M1069.1 500.9h0M1076.1 500.9h0M1083.7 500.9h0M1370.5 500.9h0M1386.3 500.9h0M1402 500.9h0M1417.6 500.9h0M1433.2 500.9h0M1448.6 500.9h0M1463.8 500.9h0M1478.8 500.9h0M1493.6 500.9h0M1508.2 500.9h0M1522.4 500.9h0M1536.3 500.9h0M1549.8 500.9h0M1562.9 500.9h0M1575.6 500.9h0M1587.9 500.9h0M1042.1 509.2h0M1045.2 509.2h0M1049.1 509.2h0M1053.7 509.2h0M1059 509.2h0M1064.9 509.2h0M1071.6 509.2h0M1078.9 509.2h0M1346.9 509.2h0M1362.6 509.2h0M1378.4 509.2h0M1394.2 509.2h0M1409.9 509.2h0M1425.6 509.2h0M1441.1 509.2h0M1456.5 509.2h0M1471.6 509.2h0M1486.6 509.2h0M1501.3 509.2h0M1515.7 509.2h0M1529.8 509.2h0M1543.6 509.2h0M1556.9 509.2h0M1569.9 509.2h0M1582.4 509.2h0M1042.8 517.5h0M1046.3 517.5h0M1050.5 517.5h0M1055.5 517.5h0M1061.1 517.5h0M1067.5 517.5h0M1074.5 517.5h0M1082.2 517.5h0M1338.9 517.5h0M1354.7 517.5h0M1370.5 517.5h0M1386.4 517.5h0M1402.1 517.5h0M1417.9 517.5h0M1433.5 517.5h0M1449 517.5h0M1464.3 517.5h0M1479.4 517.5h0M1494.3 517.5h0M1508.9 517.5h0M1523.2 517.5h0M1537.1 517.5h0M1550.7 517.5h0M1563.9 517.5h0M1576.7 517.5h0M1589 517.5h0M1043.9 525.8h0M1047.8 525.8h0M1052.4 525.8h0M1057.7 525.8h0M1063.7 525.8h0M1070.4 525.8h0M1077.7 525.8h0M1331 525.8h0M1346.8 525.8h0M1362.6 525.8h0M1378.5 525.8h0M1394.3 525.8h0M1410.1 525.8h0M1425.8 525.8h0M1441.4 525.8h0M1456.8 525.8h0M1472.1 525.8h0M1487.1 525.8h0M1501.8 525.8h0M1516.3 525.8h0M1530.5 525.8h0M1544.3 525.8h0M1557.7 525.8h0M1570.7 525.8h0M1583.3 525.8h0M1595.4 525.8h0M1045.4 534.2h0M1049.6 534.2h0M1054.6 534.2h0M1060.3 534.2h0M1066.6 534.2h0M1073.6 534.2h0M1081.3 534.2h0M1323.1 534.2h0M1338.8 534.2h0M1354.7 534.2h0M1370.5 534.2h0M1386.4 534.2h0M1402.2 534.2h0M1418 534.2h0M1433.7 534.2h0M1449.2 534.2h0M1464.6 534.2h0M1479.7 534.2h0M1494.6 534.2h0M1509.3 534.2h0M1523.6 534.2h0M1537.6 534.2h0M1551.2 534.2h0M1564.5 534.2h0M1577.3 534.2h0M1589.6 534.2h0M1047.3 542.5h0M1051.9 542.5h0M1057.2 542.5h0M1063.2 542.5h0M1069.9 542.5h0M1077.3 542.5h0M1330.9 542.5h0M1346.7 542.5h0M1362.6 542.5h0M1378.5 542.5h0M1394.3 542.5h0M1410.1 542.5h0M1425.9 542.5h0M1441.5 542.5h0M1456.9 542.5h0M1472.2 542.5h0M1487.3 542.5h0M1502 542.5h0M1516.5 542.5h0M1530.7 542.5h0M1544.6 542.5h0M1558 542.5h0M1571 542.5h0M1583.6 542.5h0M1595.7 542.5h0M1049.5 550.9h0M1054.5 550.9h0M1060.1 550.9h0M1066.5 550.9h0M1073.5 550.9h0M1338.8 550.9h0M1354.7 550.9h0M1370.5 550.9h0M1386.4 550.9h0M1402.2 550.9h0M1418 550.9h0M1433.7 550.9h0M1449.2 550.9h0M1464.6 550.9h0M1479.8 550.9h0M1494.7 550.9h0M1509.3 550.9h0M1523.7 550.9h0M1537.7 550.9h0M1551.3 550.9h0M1564.5 550.9h0M1577.4 550.9h0M1589.7 550.9h0M1052.1 559.2h0M1057.5 559.2h0M1063.5 559.2h0M1070.2 559.2h0M1077.5 559.2h0M1331 559.2h0M1346.8 559.2h0M1362.6 559.2h0M1378.5 559.2h0M1394.3 559.2h0M1410.1 559.2h0M1425.8 559.2h0M1441.4 559.2h0M1456.9 559.2h0M1472.1 559.2h0M1487.2 559.2h0M1501.9 559.2h0M1516.4 559.2h0M1530.6 559.2h0M1544.4 559.2h0M1557.8 559.2h0M1570.9 559.2h0M1583.4 559.2h0M1338.9 567.6h0M1354.7 567.6h0M1370.5 567.6h0M1386.4 567.6h0M1402.2 567.6h0M1417.9 567.6h0M1433.6 567.6h0M1449.1 567.6h0M1464.4 567.6h0M1479.5 567.6h0M1494.4 567.6h0M1509 567.6h0M1523.3 567.6h0M1537.3 567.6h0M1550.9 567.6h0M1564.1 567.6h0M1576.9 567.6h0M1589.3 567.6h0M1331.1 575.9h0M1346.8 575.9h0M1362.6 575.9h0M1378.4 575.9h0M1394.2 575.9h0M1410 575.9h0M1425.7 575.9h0M1441.2 575.9h0M1456.6 575.9h0M1471.8 575.9h0M1486.8 575.9h0M1501.5 575.9h0M1515.9 575.9h0M1530.1 575.9h0M1543.8 575.9h0M1557.2 575.9h0M1570.2 575.9h0M1582.7 575.9h0M1339 584.2h0M1354.8 584.2h0M1370.5 584.2h0M1386.3 584.2h0M1402 584.2h0M1417.7 584.2h0M1433.3 584.2h0M1448.7 584.2h0M1464 584.2h0M1479 584.2h0M1493.9 584.2h0M1508.4 584.2h0M1522.7 584.2h0M1536.6 584.2h0M1550.1 584.2h0M1563.3 584.2h0M1576 584.2h0M1588.3 584.2h0M1331.3 592.5h0M1347 592.5h0M1362.7 592.5h0M1378.4 592.5h0M1394.1 592.5h0M1409.8 592.5h0M1425.3 592.5h0M1440.8 592.5h0M1456.1 592.5h0M1471.2 592.5h0M1486.1 592.5h0M1500.8 592.5h0M1515.1 592.5h0M1529.1 592.5h0M1542.8 592.5h0M1556.1 592.5h0M1569 592.5h0M1581.5 592.5h0" fill="none" stroke="#a9bdfc" stroke-width="2.3" stroke-linecap="round" opacity="0.55"/>
<path d="M1601.7 309h0M1601.4 315.1h0M1605.4 315.1h0M1608.8 315.1h0M1604.4 321.3h0M1608.7 321.3h0M1612.5 321.3h0M1615.8 321.3h0M1601.8 327.6h0M1607 327.6h0M1611.7 327.6h0M1615.9 327.6h0M1619.5 327.6h0M1603.7 334h0M1609.3 334h0M1614.3 334h0M1618.9 334h0M1622.8 334h0M1626.2 334h0M1605.2 340.6h0M1611.2 340.6h0M1616.6 340.6h0M1621.5 340.6h0M1625.8 340.6h0M1629.6 340.6h0M1606.3 347.3h0M1612.6 347.3h0M1618.4 347.3h0M1623.7 347.3h0M1628.4 347.3h0M1632.5 347.3h0M1636 347.3h0M1607 354.1h0M1613.7 354.1h0M1619.9 354.1h0M1625.5 354.1h0M1630.6 354.1h0M1635.1 354.1h0M1639 354.1h0M1642.3 354.1h0M1607.3 361.1h0M1614.4 361.1h0M1621 361.1h0M1627 361.1h0M1632.4 361.1h0M1637.3 361.1h0M1641.5 361.1h0M1645.2 361.1h0M1607.3 368.1h0M1614.7 368.1h0M1621.7 368.1h0M1628 368.1h0M1633.8 368.1h0M1639.1 368.1h0M1643.7 368.1h0M1647.7 368.1h0M1651.2 368.1h0M1606.8 375.3h0M1614.6 375.3h0M1621.9 375.3h0M1628.7 375.3h0M1634.9 375.3h0M1640.5 375.3h0M1645.5 375.3h0M1649.9 375.3h0M1653.7 375.3h0M1605.9 382.5h0M1614.2 382.5h0M1621.8 382.5h0M1629 382.5h0M1635.5 382.5h0M1641.5 382.5h0M1646.9 382.5h0M1651.7 382.5h0M1655.8 382.5h0M1659.3 382.5h0M1604.7 389.9h0M1613.3 389.9h0M1621.3 389.9h0M1628.9 389.9h0M1635.8 389.9h0M1642.2 389.9h0M1647.9 389.9h0M1653.1 389.9h0M1657.6 389.9h0M1603 397.4h0M1612 397.4h0M1620.5 397.4h0M1628.4 397.4h0M1635.7 397.4h0M1642.4 397.4h0M1648.5 397.4h0M1654.1 397.4h0M1659 397.4h0M1601 404.9h0M1610.4 404.9h0M1619.2 404.9h0M1627.4 404.9h0M1635.1 404.9h0M1642.3 404.9h0M1648.8 404.9h0M1654.7 404.9h0M1659.9 404.9h0M1608.3 412.6h0M1617.5 412.6h0M1626.2 412.6h0M1634.2 412.6h0M1641.7 412.6h0M1648.6 412.6h0M1654.9 412.6h0M1605.9 420.3h0M1615.5 420.3h0M1624.5 420.3h0M1632.9 420.3h0M1640.8 420.3h0M1648 420.3h0M1654.7 420.3h0M1603.2 428.1h0M1613.1 428.1h0M1622.4 428.1h0M1631.2 428.1h0M1639.5 428.1h0M1647.1 428.1h0M1654.1 428.1h0M1600 436h0M1610.3 436h0M1620 436h0M1629.2 436h0M1637.7 436h0M1645.8 436h0M1653.2 436h0M1659.9 436h0M1607.1 443.9h0M1617.2 443.9h0M1626.7 443.9h0M1635.7 443.9h0M1644 443.9h0M1651.8 443.9h0M1658.9 443.9h0M1603.6 451.9h0M1614 451.9h0M1623.9 451.9h0M1633.2 451.9h0M1641.9 451.9h0M1650.1 451.9h0M1657.6 451.9h0M1610.5 459.9h0M1620.7 459.9h0M1630.4 459.9h0M1639.4 459.9h0M1647.9 459.9h0M1655.8 459.9h0M1606.6 468h0M1617.2 468h0M1627.2 468h0M1636.6 468h0M1645.4 468h0M1653.7 468h0M1602.4 476.2h0M1613.3 476.2h0M1623.6 476.2h0M1633.4 476.2h0M1642.6 476.2h0M1651.2 476.2h0M1659.1 476.2h0M1609.1 484.4h0M1619.7 484.4h0M1629.8 484.4h0M1639.3 484.4h0M1648.3 484.4h0M1656.6 484.4h0M1604.5 492.6h0M1615.5 492.6h0M1625.9 492.6h0M1635.8 492.6h0M1645 492.6h0M1653.7 492.6h0M1610.9 500.9h0M1621.6 500.9h0M1631.8 500.9h0M1641.4 500.9h0M1650.4 500.9h0M1658.8 500.9h0M1617.1 509.2h0M1627.6 509.2h0M1637.5 509.2h0M1646.8 509.2h0M1655.6 509.2h0M1623 517.5h0M1633.2 517.5h0M1642.9 517.5h0M1651.9 517.5h0M1618.1 525.8h0M1628.6 525.8h0M1638.6 525.8h0M1647.9 525.8h0M1656.7 525.8h0M1623.7 534.2h0M1633.9 534.2h0M1643.6 534.2h0M1652.7 534.2h0M1618.5 542.5h0M1629 542.5h0M1639 542.5h0M1648.4 542.5h0M1657.2 542.5h0M1623.8 550.9h0M1634 550.9h0M1643.7 550.9h0M1652.8 550.9h0M1618.2 559.2h0M1628.8 559.2h0M1638.8 559.2h0M1648.1 559.2h0M1656.9 559.2h0M1623.2 567.6h0M1633.5 567.6h0M1643.2 567.6h0M1652.2 567.6h0M1617.4 575.9h0M1627.9 575.9h0M1637.9 575.9h0M1647.2 575.9h0M1656 575.9h0M1611.3 584.2h0M1622.1 584.2h0M1632.3 584.2h0M1641.9 584.2h0M1651 584.2h0M1659.4 584.2h0M1616 592.5h0M1626.5 592.5h0M1636.3 592.5h0M1645.6 592.5h0M1654.3 592.5h0M1609.7 600.7h0M1620.3 600.7h0M1630.5 600.7h0M1640 600.7h0M1649 600.7h0M1657.3 600.7h0" fill="none" stroke="#a9bdfc" stroke-width="2.0" stroke-linecap="round" opacity="0.45"/>
<path d="M1661.5 389.9h0M1663.2 397.4h0M1666.8 397.4h0M1664.6 404.9h0M1668.5 404.9h0M1671.9 404.9h0M1660.5 412.6h0M1665.5 412.6h0M1669.9 412.6h0M1673.6 412.6h0M1660.7 420.3h0M1666.1 420.3h0M1670.8 420.3h0M1674.9 420.3h0M1678.3 420.3h0M1660.5 428.1h0M1666.3 428.1h0M1671.4 428.1h0M1675.8 428.1h0M1679.6 428.1h0M1666.1 436h0M1671.5 436h0M1676.4 436h0M1680.5 436h0M1684 436h0M1665.5 443.9h0M1671.3 443.9h0M1676.5 443.9h0M1681 443.9h0M1684.9 443.9h0M1664.5 451.9h0M1670.7 451.9h0M1676.3 451.9h0M1681.1 451.9h0M1685.4 451.9h0M1688.9 451.9h0M1663.1 459.9h0M1669.7 459.9h0M1675.6 459.9h0M1680.9 459.9h0M1685.5 459.9h0M1689.3 459.9h0M1661.3 468h0M1668.3 468h0M1674.6 468h0M1680.2 468h0M1685.2 468h0M1689.4 468h0M1693 468h0M1666.5 476.2h0M1673.1 476.2h0M1679.2 476.2h0M1684.5 476.2h0M1689.1 476.2h0M1693.1 476.2h0M1664.3 484.4h0M1671.3 484.4h0M1677.7 484.4h0M1683.4 484.4h0M1688.4 484.4h0M1692.7 484.4h0M1696.3 484.4h0M1661.7 492.6h0M1669.1 492.6h0M1675.9 492.6h0M1682 492.6h0M1687.3 492.6h0M1692 492.6h0M1696 492.6h0M1666.6 500.9h0M1673.7 500.9h0M1680.1 500.9h0M1685.9 500.9h0M1690.9 500.9h0M1695.2 500.9h0M1698.9 500.9h0M1663.6 509.2h0M1671.1 509.2h0M1677.9 509.2h0M1684 509.2h0M1689.4 509.2h0M1694.1 509.2h0M1698.1 509.2h0M1660.4 517.5h0M1668.1 517.5h0M1675.3 517.5h0M1681.7 517.5h0M1687.5 517.5h0M1692.6 517.5h0M1697 517.5h0M1700.6 517.5h0M1664.8 525.8h0M1672.3 525.8h0M1679.1 525.8h0M1685.3 525.8h0M1690.7 525.8h0M1695.4 525.8h0M1699.4 525.8h0M1661.2 534.2h0M1669 534.2h0M1676.1 534.2h0M1682.6 534.2h0M1688.4 534.2h0M1693.5 534.2h0M1697.9 534.2h0M1701.5 534.2h0M1665.3 542.5h0M1672.8 542.5h0M1679.6 542.5h0M1685.8 542.5h0M1691.2 542.5h0M1695.9 542.5h0M1700 542.5h0M1661.3 550.9h0M1669.1 550.9h0M1676.3 550.9h0M1682.7 550.9h0M1688.5 550.9h0M1693.6 550.9h0M1698 550.9h0M1701.6 550.9h0M1665 559.2h0M1672.5 559.2h0M1679.4 559.2h0M1685.5 559.2h0M1690.9 559.2h0M1695.7 559.2h0M1699.7 559.2h0M1660.7 567.6h0M1668.5 567.6h0M1675.6 567.6h0M1682.1 567.6h0M1687.9 567.6h0M1692.9 567.6h0M1697.3 567.6h0M1701 567.6h0M1664.1 575.9h0M1671.5 575.9h0M1678.3 575.9h0M1684.4 575.9h0M1689.9 575.9h0M1694.6 575.9h0M1698.6 575.9h0M1667.1 584.2h0M1674.2 584.2h0M1680.7 584.2h0M1686.4 584.2h0M1691.5 584.2h0M1695.8 584.2h0M1699.5 584.2h0M1662.4 592.5h0M1669.8 592.5h0M1676.6 592.5h0M1682.6 592.5h0M1688 592.5h0M1692.7 592.5h0M1696.7 592.5h0M1665 600.7h0M1672.1 600.7h0M1678.5 600.7h0M1684.2 600.7h0M1689.2 600.7h0M1693.6 600.7h0M1697.2 600.7h0" fill="none" stroke="#a9bdfc" stroke-width="1.6" stroke-linecap="round" opacity="0.32"/>
<g fill="#c9d7ff"><circle cx="874" cy="362.5" r="3.5"/><circle cx="1062.5" cy="349" r="3"/><circle cx="961.5" cy="426.5" r="2.2"/><circle cx="945" cy="451" r="1"/><circle cx="1014" cy="471" r="4"/><circle cx="1025" cy="491.5" r="2"/><circle cx="949" cy="520" r="1"/><circle cx="939" cy="544" r="1"/><circle cx="868.5" cy="556.5" r="2"/><circle cx="1001.5" cy="564" r="1"/><circle cx="1103.5" cy="407.5" r="4"/><circle cx="1062.5" cy="442.5" r="5"/><circle cx="1046" cy="571.5" r="4"/><circle cx="1097.5" cy="365" r="2"/><circle cx="1483.5" cy="148.8" r="3"/><circle cx="958.5" cy="132" r="3.6"/><circle cx="1104.7" cy="181.5" r="2.5"/><circle cx="1130.8" cy="195" r="1"/><circle cx="1164" cy="193.6" r="1.5"/><circle cx="1111.5" cy="213" r="2"/><circle cx="1083" cy="232.3" r="2"/><circle cx="1100.7" cy="253.5" r="3"/><circle cx="913.5" cy="218.4" r="1.5"/><circle cx="903.6" cy="279.6" r="3"/><circle cx="1066.5" cy="267.9" r="1.5"/><circle cx="1121.8" cy="294" r="2"/><circle cx="1094.4" cy="312" r="1.5"/><circle cx="992.2" cy="315.6" r="1.5"/><circle cx="1033.6" cy="321.9" r="1.5"/><circle cx="1656" cy="274.2" r="1.2"/><circle cx="1584" cy="283.8" r="3.5"/><circle cx="1804.8" cy="571.2" r="2"/><circle cx="1681.2" cy="438" r="2.5"/><circle cx="1632" cy="361.2" r="2"/><circle cx="1617" cy="531" r="3.5"/></g>

<g id="deco" fill="none" stroke-width="2">
<path d="M1258 104.2 L1251.6 114.6 H1264.4 Z" stroke="#ff0a6e" stroke-linejoin="miter"/>
<circle cx="1213.3" cy="180.2" r="7.3" stroke="#22d02a"/>
<path d="M1415.5 144.7 L1427.6 138.2 V151.2 Z" fill="#ffd100" stroke="#ffd100" stroke-linejoin="miter" stroke-width="1.5"/>
<circle cx="1423.6" cy="144.7" r=".7" fill="#f1f1f1" stroke="none"/>
</g>
<g id="lines" stroke="#222" stroke-width="2.6" fill="none">
<path d="M1166.5 318 H1560" stroke-width="2.4"/>
<path d="M1172 284 H1222 M1197 294.5 H1222 M1471 288 H1555 M1471 299.7 H1513" stroke-width="1.8"/>
<path d="M1240.7 318 V326 M1284.7 318 V326 M1445.6 318 V326 M1480.5 318 V326"/>
<g stroke-dasharray="6.5 4">
<path d="M1317 184.5 V193" stroke-dasharray="3.5 2.5"/>
<path d="M1250.5 268.5 V289.5 H1294"/>
<path d="M1453.3 256.5 V289.5 H1430"/>
<path d="M1240.5 326 V486.3 H1148"/>
<path d="M1240.5 422.5 H1200"/>
<path d="M1284.9 326 V340"/>
<path d="M1445.6 326 V356"/>
<path d="M1480.5 326 V510 H1519"/>
<path d="M1480.5 396.5 H1517"/>
</g>
</g>
<g id="cloudsblue" fill="#006cff">
<circle cx="1282.2" cy="155.1" r="27.6"/><circle cx="1322.7" cy="139.7" r="37.7"/><circle cx="1361.7" cy="156.7" r="26"/><rect x="1282" y="150" width="80" height="32.7"/>
<circle cx="1215.6" cy="244.9" r="21.6"/><circle cx="1250" cy="230.3" r="31.5"/><circle cx="1282" cy="243.5" r="23"/><rect x="1215.6" y="240" width="67" height="26.5"/>
<circle cx="1455.3" cy="211.8" r="37.6"/><circle cx="1494.5" cy="228.4" r="26.5"/><rect x="1427" y="220" width="67.5" height="34.9"/>
</g>
<g id="arcs" fill="none" stroke="#f1f1f1" stroke-width="3" stroke-linecap="round">
<path d="M1330.5 148.5 A30.5 30.5 0 0 1 1357 127.6"/>
<path d="M1221 222.7 A26 26 0 0 1 1242.8 238"/>
<path d="M1464 220.5 A31 31 0 0 1 1490.5 202"/>
</g>
<g id="server" stroke="#222" stroke-width="2">
<rect x="1312" y="222" width="103" height="96" fill="#808285"/>
<rect x="1300.6" y="192" width="126" height="31" fill="#b3b3b3"/>
<rect x="1300.6" y="233" width="126" height="30" fill="#f2f2f2"/>
<rect x="1300.6" y="273.7" width="126" height="30" fill="#b3b3b3"/>
<g stroke="none" fill="#222">
<rect x="1312" y="201" width="3.6" height="14.5"/><rect x="1325.6" y="201" width="3.6" height="14.5"/><rect x="1338.6" y="201" width="1.8" height="14.5"/>
<rect x="1345.8" y="201" width="49.2" height="8.2" fill="#fff"/>
<rect x="1350.6" y="203.4" width="3.4" height="3.4" fill="#006cff"/><rect x="1360.4" y="203.4" width="3.4" height="3.4" fill="#006cff"/><rect x="1370.2" y="203.4" width="1" height="3.4" fill="#006cff"/>
<rect x="1374.4" y="203.4" width="3.4" height="3.4"/><rect x="1384.4" y="203.4" width="3.4" height="3.4"/>
<rect x="1345.8" y="214.2" width="37.2" height="1.5"/><rect x="1387.4" y="214.2" width="7.6" height="1.5"/>
<circle cx="1407" cy="208.7" r="8" fill="#ffd100"/><rect x="1403.5" y="207" width="7" height="3.4"/>
<circle cx="1319.2" cy="248.2" r="8" fill="#006cff"/><rect x="1315.7" y="246.5" width="7" height="3.4"/>
<circle cx="1342" cy="248.2" r="8" fill="#808285"/><rect x="1338.5" y="246.5" width="7" height="3.4"/>
<circle cx="1365.7" cy="248.2" r="8" fill="#ffd100"/><rect x="1362.2" y="246.5" width="7" height="3.4"/>
<rect x="1386.2" y="240.7" width="3.6" height="15"/><rect x="1400.4" y="240.7" width="3.6" height="15"/><rect x="1414" y="240.7" width="1.6" height="15"/>
<circle cx="1319.2" cy="288.7" r="8" fill="#ffd100"/><rect x="1315.7" y="287" width="7" height="3.4"/>
<rect x="1334.2" y="282" width="37.6" height="3.5"/><rect x="1334.2" y="293.6" width="37.6" height="1.8"/>
<rect x="1380.8" y="281.8" width="35.5" height="13.7" fill="#fff"/>
<rect x="1385.5" y="284.3" width="3.6" height="9" fill="#006cff"/><rect x="1395" y="284.3" width="3.6" height="9" fill="#006cff"/><rect x="1405" y="284.3" width="4" height="9" fill="#006cff"/>
</g>
</g>
<g transform="translate(1159.25 391)" stroke="#222" stroke-width="1.6" stroke-linejoin="round">
<path d="M21.5 9.2 C19 1.5 8 -1.5 5.2 3.2 C3.2 7 12 9.4 21.5 9.2 Z M21.5 9.2 C24 1.5 35 -1.5 37.8 3.2 C39.8 7 31 9.4 21.5 9.2 Z" fill="#006cff"/>
<rect x="3.3" y="20" width="36.4" height="21" fill="#006cff"/>
<rect x="0" y="9" width="43" height="12" fill="#ffd100"/>
<rect x="19.4" y="9" width="4.2" height="32" fill="#fff" stroke-width="1.2"/>
</g>
<g transform="translate(1106.25 459)" stroke="#222" stroke-width="1.6" stroke-linejoin="round">
<path d="M21.5 9.2 C19 1.5 8 -1.5 5.2 3.2 C3.2 7 12 9.4 21.5 9.2 Z M21.5 9.2 C24 1.5 35 -1.5 37.8 3.2 C39.8 7 31 9.4 21.5 9.2 Z" fill="#006cff"/>
<rect x="3.3" y="20" width="36.4" height="21" fill="#006cff"/>
<rect x="0" y="9" width="43" height="12" fill="#ffd100"/>
<rect x="19.4" y="9" width="4.2" height="32" fill="#fff" stroke-width="1.2"/>
</g>
<g transform="translate(1516.3 369.5)" stroke="#222" stroke-width="1.6" stroke-linejoin="round">
<path d="M21.5 9.2 C19 1.5 8 -1.5 5.2 3.2 C3.2 7 12 9.4 21.5 9.2 Z M21.5 9.2 C24 1.5 35 -1.5 37.8 3.2 C39.8 7 31 9.4 21.5 9.2 Z" fill="#006cff"/>
<rect x="3.3" y="20" width="36.4" height="21" fill="#006cff"/>
<rect x="0" y="9" width="43" height="12" fill="#ffd100"/>
<rect x="19.4" y="9" width="4.2" height="32" fill="#fff" stroke-width="1.2"/>
</g>
<g transform="translate(1516.3 480.3)" stroke="#222" stroke-width="1.6" stroke-linejoin="round">
<path d="M21.5 9.2 C19 1.5 8 -1.5 5.2 3.2 C3.2 7 12 9.4 21.5 9.2 Z M21.5 9.2 C24 1.5 35 -1.5 37.8 3.2 C39.8 7 31 9.4 21.5 9.2 Z" fill="#006cff"/>
<rect x="3.3" y="20" width="36.4" height="21" fill="#006cff"/>
<rect x="0" y="9" width="43" height="12" fill="#ffd100"/>
<rect x="19.4" y="9" width="4.2" height="32" fill="#fff" stroke-width="1.2"/>
</g>
<g fill="#5a6478" opacity=".3"><path d="M1245.2 402.5 L1276 360.6 H1474.2 V445.8 H1277 Z" stroke="#5a6478" stroke-width="8" stroke-linejoin="round"/></g>
<path d="M1243.2 400.5 L1274 358.6 H1472.2 V443.8 H1275 Z" fill="#006cff" stroke="#006cff" stroke-width="8" stroke-linejoin="round"/>
<rect x="1222" y="327" width="115.2" height="45" rx="22.5" fill="#28324a" opacity=".26"/>
<rect x="1220" y="325" width="115.2" height="45" rx="22.5" fill="#ffd100"/>
<rect x="1337.3" y="436" width="157" height="45" rx="22.5" fill="#28324a" opacity=".26"/>
<rect x="1335.3" y="434" width="157" height="45" rx="22.5" fill="#ffd100"/>
<g fill="none" stroke="#000" stroke-width="4" stroke-linejoin="miter" stroke-miterlimit="10"><path d="M 1248.2 333.3 V 354.27 A 3.95 3.95 0 0 0 1256.1 354.27 V 333.3 M 1264.2 359.9 V 335.3 H 1268.14 A 3.56 3.56 0 0 1 1271.7 338.86 V 344.23 A 3.56 3.56 0 0 1 1268.14 347.79 H 1264.2 M 1281 335.3 H 1293.4 M 1287.2 335.3 V 359.9 M 1297.7 339.18 A 4.2 4.2 0 0 1 1306.1 339.18 V 354.02 A 4.2 4.2 0 0 1 1297.7 354.02 Z"/></g>
<g fill="none" stroke="#fff" stroke-width="7.7" stroke-linejoin="miter" stroke-miterlimit="10"><path d="M 1309.65 385.73 A 7.55 7.55 0 0 1 1324.75 385.73 V 411.97 A 7.55 7.55 0 0 1 1309.65 411.97 Z M 1390.15 386.33 A 8.15 8.15 0 0 1 1406.45 386.33 V 411.37 A 8.15 8.15 0 0 1 1390.15 411.37 Z M 1432.4 378.75 H 1418.15 V 422.8 M 1418.15 398.37 H 1431.31 M 1458.7 378.75 H 1442.15 V 422.8 M 1442.15 398.37 H 1457.48"/><path stroke-width="4.39" d="M 1335.99 381.36 A 4.27 4.27 0 0 1 1344.53 381.36 V 399.1 A 4.27 4.27 0 0 1 1335.99 399.1 Z"/><path stroke-width="4.39" d="M 1361.07 398.6 A 4.27 4.27 0 0 1 1369.61 398.6 V 416.34 A 4.27 4.27 0 0 1 1361.07 416.34 Z"/><path fill="#fff" stroke="none" d="M 1277.3 386 A 12.06 12.06 0 0 1 1290.4 373.94 A 12.06 12.06 0 0 1 1303.5 386 V 390.37 A 12.06 9.04 0 0 1 1290.4 399.41 A 12.06 9.04 0 0 1 1277.3 390.37 Z M 1276.7 404.45 A 12.06 9.04 0 0 1 1290.4 395.41 A 12.06 9.04 0 0 1 1304.1 404.45 V 411.7 A 12.06 12.06 0 0 1 1290.4 423.76 A 12.06 12.06 0 0 1 1276.7 411.7 Z M 1358.88 374.9 H 1364.2 L 1345.58 422.8 H 1340.26 Z"/><path fill="#006cff" stroke="none" d="M 1286.29 384.85 A 4.11 4.11 0 0 1 1294.51 384.85 V 389.47 A 4.11 4.11 0 0 1 1286.29 389.47 Z M 1286.29 405.31 A 4.11 4.11 0 0 1 1294.51 405.31 V 412.22 A 4.11 4.11 0 0 1 1286.29 412.22 Z"/></g>
<g fill="none" stroke="#000" stroke-width="4.2" stroke-linejoin="miter" stroke-miterlimit="10"><path d="M 1367.9 454.77 H 1371.47 A 3.87 3.87 0 0 0 1375.34 450.9 V 448.47 A 3.87 3.87 0 0 0 1371.47 444.6 H 1367.9 V 466.5 H 1371.64 A 4.06 4.06 0 0 0 1375.7 462.44 V 458.82 A 4.06 4.06 0 0 0 1371.64 454.77 M 1382.8 442.5 V 468.6 M 1397.9 451.9 V 448.19 A 3.9 3.9 0 0 0 1390.1 448.19 V 462.91 A 3.9 3.9 0 0 0 1397.9 462.91 V 456.33 H 1394 M 1418.3 451.11 V 448.24 A 3.95 3.95 0 0 0 1410.4 448.24 V 450.33 C 1410.4 455.03 1418.3 455.55 1418.3 460.77 V 462.86 A 3.95 3.95 0 0 1 1410.4 462.86 V 459.73 M 1441.3 442.5 V 466.5 H 1448.9 M 1462.9 444.6 H 1454.4 V 466.5 H 1462.9 M 1454.4 455.29 H 1462.05"/><path fill="#000" stroke="none" d="M 1421.8 468.6 L 1426.49 442.5 H 1432.11 L 1436.8 468.6 H 1432.26 L 1429.3 448.76 L 1426.34 468.6 Z M 1425.4 460.77 H 1433.2 V 464.55 H 1425.4 Z"/></g>

</svg>
<h1 class="hd"><span class="t blue" id="h1a" style="left:361.63px;top:103.11px;font-size:51.5px;transform:scaleX(0.8718)">COST</span><span class="t blue" id="h1a2" style="left:486.45px;top:103.11px;font-size:51.5px;transform:scaleX(0.8467)">-</span><span class="t blue" id="h1a3" style="left:504.60px;top:103.11px;font-size:51.5px;transform:scaleX(0.9011)">EFFECTIVE</span> <span class="t" id="h1b" style="left:774.10px;top:103.11px;font-size:51.5px;transform:scaleX(0.9033)">CLOUD</span> <span class="t" id="h1b2" style="left:952.87px;top:103.11px;font-size:51.5px;transform:scaleX(0.8798)">SERVER</span></h1>
<p class="t sub" id="sub" style="left:360.40px;top:181.24px;font-size:15.9px;transform:scaleX(1.0888)">We provide high-quality, fast and flexible cloud instances:</p>
<p class="t li" id="l1a" style="left:385.96px;top:244.94px;font-size:15.9px;transform:scaleX(1.0432)">High-performance cloud servers with SSD storage and</p>
<p class="t li blue" id="l1b" style="left:790.05px;top:244.94px;font-size:15.9px;transform:scaleX(0.9526)">1000M CN2 GIA</p>
<p class="t li" id="l1c" style="left:906.00px;top:244.94px;font-size:15.9px;transform:scaleX(1.0838)">connection.</p>
<p class="t li blue" id="l2a" style="left:385.98px;top:304.24px;font-size:15.9px;transform:scaleX(1.0236)">Full root access</p>
<p class="t li" id="l2b" style="left:504.00px;top:304.24px;font-size:15.9px;transform:scaleX(1.0456)">with your desired OS</p>
<p class="t li" id="l3a" style="left:385.93px;top:343.74px;font-size:15.9px;transform:scaleX(1.0663)">Extremely fast automatic deployment, supports one-click installation of various apps</p>
<p class="t li" id="l4a" style="left:385.96px;top:403.74px;font-size:15.9px;transform:scaleX(1.0385)">Free DDoS protection,</p>
<p class="t li blue" id="l4b" style="left:551.94px;top:403.74px;font-size:15.9px;transform:scaleX(1.0571)">99.99% uptime</p>
<svg class="chk" style="top:244px" viewBox="0 0 16 16"><path d="M.5 .5H14.6V14.6H.5Z M1 15.2H15.2V1.2" fill="none" stroke="#0a6cff" stroke-width="1.1"/><path d="M15 1V15H1" fill="none" stroke="#0a6cff" stroke-width="1.6"/><path d="M2.2 6.6L6.4 11 12.9 4" fill="none" stroke="#0a6cff" stroke-width="1.3"/></svg>
<svg class="chk" style="top:304px" viewBox="0 0 16 16"><path d="M.5 .5H14.6V14.6H.5Z M1 15.2H15.2V1.2" fill="none" stroke="#0a6cff" stroke-width="1.1"/><path d="M15 1V15H1" fill="none" stroke="#0a6cff" stroke-width="1.6"/><path d="M2.2 6.6L6.4 11 12.9 4" fill="none" stroke="#0a6cff" stroke-width="1.3"/></svg>
<svg class="chk" style="top:342.2px" viewBox="0 0 16 16"><path d="M.5 .5H14.6V14.6H.5Z M1 15.2H15.2V1.2" fill="none" stroke="#0a6cff" stroke-width="1.1"/><path d="M15 1V15H1" fill="none" stroke="#0a6cff" stroke-width="1.6"/><path d="M2.2 6.6L6.4 11 12.9 4" fill="none" stroke="#0a6cff" stroke-width="1.3"/></svg>
<svg class="chk" style="top:403px" viewBox="0 0 16 16"><path d="M.5 .5H14.6V14.6H.5Z M1 15.2H15.2V1.2" fill="none" stroke="#0a6cff" stroke-width="1.1"/><path d="M15 1V15H1" fill="none" stroke="#0a6cff" stroke-width="1.6"/><path d="M2.2 6.6L6.4 11 12.9 4" fill="none" stroke="#0a6cff" stroke-width="1.3"/></svg>
<a class="btn"><span>Buy Now</span></a>
</div>
</body>
</html>
